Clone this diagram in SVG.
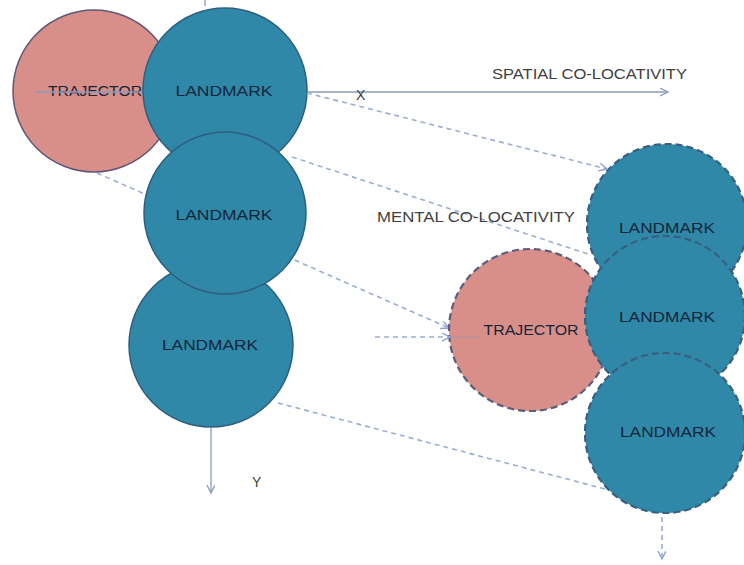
<svg xmlns="http://www.w3.org/2000/svg" width="744" height="565" viewBox="0 0 744 565">
<style>
.tr{fill:#d98f89;stroke:#5e5678;stroke-width:1.5}
.lm{fill:#2f88a8;stroke:#2f5f80;stroke-width:1.5}
.trd{fill:#d98f89;stroke:#5a5e7c;stroke-width:2.2;stroke-dasharray:7 4}
.lmd{fill:#2f88a8;stroke:#3a5e7e;stroke-width:2.2;stroke-dasharray:7 4}
.lbl{font-family:"Liberation Sans",Arial,sans-serif;font-size:14px;fill:#14263a;text-anchor:middle;dominant-baseline:central}
.cap{font-family:"Liberation Sans",Arial,sans-serif;font-size:14px;fill:#404040}
.axis{stroke:#8a9bbd;stroke-width:1.3;fill:none}
.dash{stroke:#9aaed3;stroke-width:1.6;stroke-dasharray:5 4;fill:none}
</style>
<defs>
<marker id="ah" markerWidth="10" markerHeight="10" refX="8" refY="4" orient="auto" markerUnits="userSpaceOnUse">
<path d="M0,0 L8,4 L0,8" fill="none" stroke="#8a9bbd" stroke-width="1.3"/>
</marker>
<marker id="ahd" markerWidth="10" markerHeight="10" refX="8" refY="4" orient="auto" markerUnits="userSpaceOnUse">
<path d="M0,0 L8,4 L0,8" fill="none" stroke="#8fa3cc" stroke-width="1.4"/>
</marker>
</defs>
<rect width="744" height="565" fill="#ffffff"/>
<g id="connectors-back">
<line class="dash" x1="97" y1="173" x2="449" y2="328" marker-end="url(#ahd)"/>
</g>
<g id="trajector-left">
<circle class="tr" cx="94" cy="91" r="81"/>
<text class="lbl" x="95" y="91" textLength="94" lengthAdjust="spacingAndGlyphs">TRAJECTOR</text>
</g>
<g id="x-axis-back">
<line class="axis" x1="35" y1="92" x2="668" y2="92" marker-end="url(#ah)"/>
</g>
<g id="landmark-left-1">
<circle class="lm" cx="225" cy="90" r="82"/>
<text class="lbl" x="224" y="91" textLength="97" lengthAdjust="spacingAndGlyphs">LANDMARK</text>
</g>
<g id="landmark-left-3">
<circle class="lm" cx="211" cy="345" r="82"/>
<text class="lbl" x="210" y="345" textLength="96" lengthAdjust="spacingAndGlyphs">LANDMARK</text>
</g>
<g id="landmark-left-2">
<circle class="lm" cx="225" cy="213" r="81"/>
<text class="lbl" x="224" y="215" textLength="97" lengthAdjust="spacingAndGlyphs">LANDMARK</text>
</g>
<g id="trajector-right">
<circle class="trd" cx="530" cy="330" r="81"/>
<text class="lbl" x="531" y="330" textLength="95" lengthAdjust="spacingAndGlyphs">TRAJECTOR</text>
</g>
<g id="landmark-right-1">
<circle class="lmd" cx="667" cy="224" r="80"/>
<text class="lbl" x="667" y="228" textLength="96" lengthAdjust="spacingAndGlyphs">LANDMARK</text>
</g>
<g id="landmark-right-2">
<circle class="lmd" cx="665" cy="316" r="80"/>
<text class="lbl" x="667" y="317" textLength="96" lengthAdjust="spacingAndGlyphs">LANDMARK</text>
</g>
<g id="landmark-right-3">
<circle class="lmd" cx="665" cy="433" r="80"/>
<text class="lbl" x="668" y="432" textLength="96" lengthAdjust="spacingAndGlyphs">LANDMARK</text>
</g>
<g id="connectors">
<line class="axis" x1="205" y1="0" x2="205" y2="6"/>
<line class="axis" x1="211" y1="428" x2="211" y2="493" marker-end="url(#ah)"/>
<line class="dash" x1="307" y1="93" x2="607" y2="169" marker-end="url(#ahd)"/>
<line class="dash" x1="292" y1="157" x2="588" y2="254"/>
<line class="dash" x1="278" y1="403" x2="605" y2="489"/>
<line class="dash" x1="375" y1="337" x2="450" y2="337" marker-end="url(#ahd)"/>
<line x1="450" y1="337" x2="482" y2="337" stroke="#8a9bbd" stroke-width="1" opacity="0.6"/>
<line class="dash" x1="662" y1="517" x2="662" y2="559" marker-end="url(#ahd)"/>
</g>
<g id="labels">
<text class="cap" x="492" y="79" textLength="195" lengthAdjust="spacingAndGlyphs">SPATIAL CO-LOCATIVITY</text>
<text class="cap" x="377" y="222" textLength="198" lengthAdjust="spacingAndGlyphs">MENTAL CO-LOCATIVITY</text>
<text class="cap" x="356" y="100">X</text>
<text class="cap" x="252" y="487">Y</text>
</g>
</svg>
